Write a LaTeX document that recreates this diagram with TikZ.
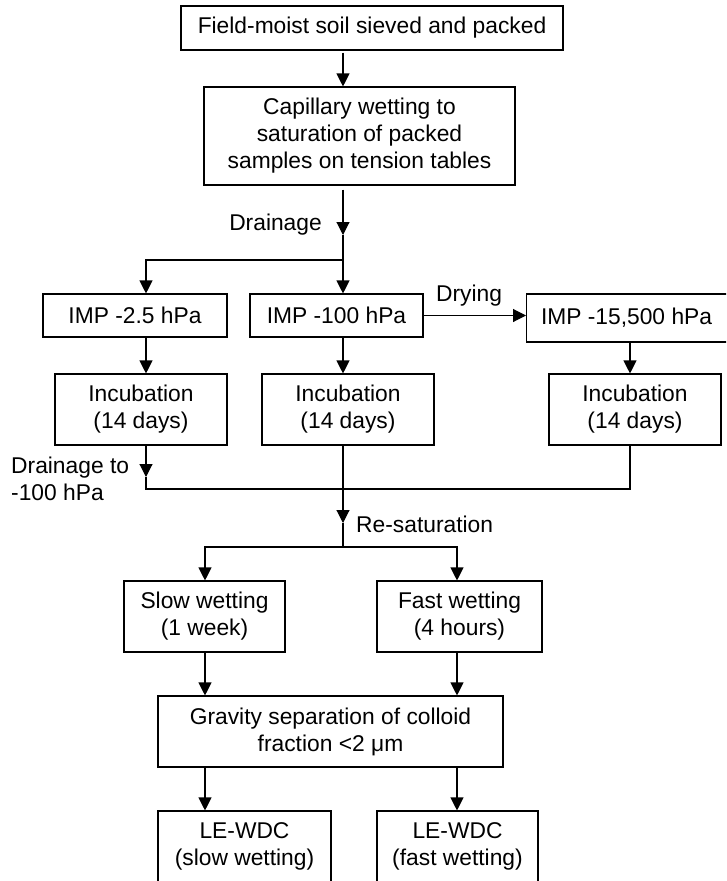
\documentclass[tikz,border=0pt]{standalone}
\usepackage{fontspec}
\setmainfont{Liberation Sans}
\usetikzlibrary{arrows.meta}
\begin{document}
\begin{tikzpicture}[x=1pt,y=-1pt,
  box/.style={draw,line width=1.1pt,align=center,inner sep=0pt,
    font=\fontsize{22.8}{27}\selectfont},
  lbl/.style={inner sep=0pt,font=\fontsize{22.8}{27}\selectfont},
  arr/.style={line width=1.1pt,-{Triangle[length=13pt,width=13pt]}},
  ln/.style={line width=1.1pt}]
\useasboundingbox (0,0) rectangle (726,881);
\clip (0,0) rectangle (726,881);
% columns
\coordinate (cM) at (343,0);
\coordinate (cL) at (146,0);
\coordinate (cR) at (630,0);
\coordinate (cA) at (205,0);
\coordinate (cB) at (457,0);
% boxes
\node[box,minimum width=382pt,minimum height=44pt] (top) at (372,28) {Field-moist soil sieved and packed};
\node[box,minimum width=311pt,minimum height=98pt] (cap) at (359.5,136) {Capillary wetting to\\saturation of packed\\samples on tension tables};
\node[box,minimum width=184pt,minimum height=43pt] (imp1) at (135,315.5) {IMP -2.5 hPa};
\node[box,minimum width=173pt,minimum height=43pt] (imp2) at (336.5,315.5) {IMP -100 hPa};
\node[box,minimum width=230pt,minimum height=48pt,anchor=west] (imp3) at (526,318) {\hspace*{-30pt}IMP -15,500 hPa};
\node[box,minimum width=172pt,minimum height=71pt] (inc1) at (141,409.5) {Incubation\\(14 days)};
\node[box,minimum width=172pt,minimum height=71pt] (inc2) at (348,409.5) {Incubation\\(14 days)};
\node[box,minimum width=172pt,minimum height=71pt] (inc3) at (635,409.5) {Incubation\\(14 days)};
\node[box,minimum width=161pt,minimum height=71pt] (slow) at (204.5,616.5) {Slow wetting\\(1 week)};
\node[box,minimum width=165pt,minimum height=71pt] (fast) at (459.5,616.5) {Fast wetting\\(4 hours)};
\node[box,minimum width=345pt,minimum height=71pt] (grav) at (330.5,731.5) {Gravity separation of colloid\\fraction <2 μm};
\node[box,minimum width=173pt,minimum height=71pt] (le1) at (244.5,846.5) {LE-WDC\\(slow wetting)};
\node[box,minimum width=161pt,minimum height=71pt] (le2) at (457.5,846.5) {LE-WDC\\(fast wetting)};
% labels
\node[lbl,anchor=east] (ldrain) at (322,225) {Drainage};
\node[lbl] (ldry) at (469,296) {Drying};
\node[lbl,anchor=west,align=left] (ldrain2) at (11,479) {Drainage to\\-100 hPa};
\node[lbl,anchor=west] (lresat) at (356,524) {Re-saturation};
% junction coordinates
\coordinate (d1) at (343,235);
\coordinate (j1) at (343,260);
\coordinate (d2) at (146,477);
\coordinate (j2) at (146,489);
\coordinate (d3) at (343,523);
\coordinate (j3) at (343,547);
% connectors
\draw[arr] ([yshift=-2pt]top.south -| cM) -- (cap.north -| cM);
\draw[arr] ([yshift=-4pt]cap.south -| cM) -- (d1);
\draw[ln] (d1) -- (j1);
\draw[arr] (j1) -- (imp2.north -| cM);
\draw[arr] (j1) -| (imp1.north -| cL);
\draw[arr] (imp2.east) -- (imp2.east -| imp3.west);
\draw[arr] (imp1.south -| cL) -- (inc1.north -| cL);
\draw[arr] (imp2.south -| cM) -- (inc2.north -| cM);
\draw[arr] (imp3.south -| cR) -- (inc3.north -| cR);
\draw[arr] (inc1.south -| cL) -- (d2);
\draw[ln] (d2) -- (j2) -| (inc3.south -| cR);
\draw[arr] (inc2.south -| cM) -- (d3);
\draw[ln] (d3) -- (j3);
\draw[arr] (j3) -| (slow.north -| cA);
\draw[arr] (j3) -| (fast.north -| cB);
\draw[arr] (slow.south -| cA) -- (grav.north -| cA);
\draw[arr] (fast.south -| cB) -- (grav.north -| cB);
\draw[arr] (grav.south -| cA) -- (le1.north -| cA);
\draw[arr] (grav.south -| cB) -- (le2.north -| cB);
\end{tikzpicture}
\end{document}
